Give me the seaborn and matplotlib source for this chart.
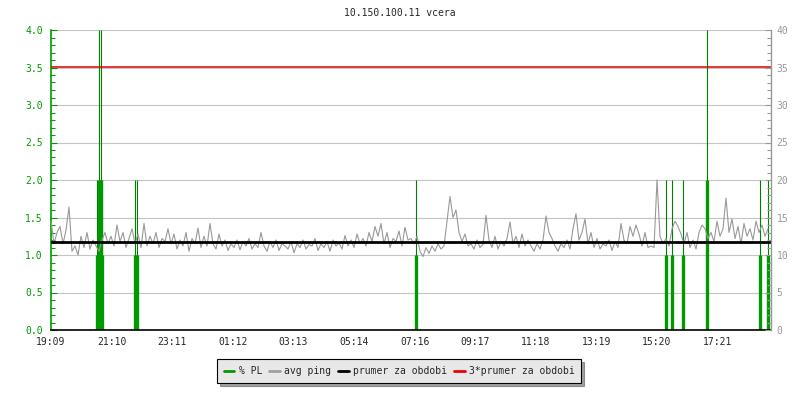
import numpy as np
import pandas as pd
import matplotlib
matplotlib.use('Agg')
import matplotlib.pyplot as plt
from matplotlib.lines import Line2D
from matplotlib.ticker import MultipleLocator
import seaborn as sns

sns.set_style('white')
plt.rcParams['font.family'] = ['DejaVu Sans Mono']

title = '10.150.100.11 vcera'
tick_labels = ['19:09', '21:10', '23:11', '01:12', '03:13', '05:14',
               '07:16', '09:17', '11:18', '13:19', '15:20', '17:21']
tick_step = 121.2  # minutes between labels
sample_step = 6    # minutes between ping samples

# avg ping (left scale), one value every 6 minutes
avg_ping = [
    1.45, 1.15, 1.30, 1.38, 1.15, 1.33, 1.64, 1.05, 1.12, 1.00,
    1.25, 1.10, 1.30, 1.08, 1.20, 1.12, 1.05, 1.20, 1.30, 1.15,
    1.25, 1.12, 1.40, 1.18, 1.30, 1.10, 1.22, 1.35, 1.15, 1.28,
    1.10, 1.42, 1.12, 1.25, 1.15, 1.30, 1.10, 1.22, 1.18, 1.35,
    1.15, 1.28, 1.08, 1.20, 1.12, 1.30, 1.05, 1.22, 1.15, 1.36,
    1.10, 1.25, 1.12, 1.42, 1.15, 1.08, 1.28, 1.12, 1.20, 1.06,
    1.15, 1.10, 1.20, 1.07, 1.18, 1.12, 1.22, 1.08, 1.15, 1.10,
    1.30, 1.12, 1.05, 1.18, 1.10, 1.20, 1.06, 1.15, 1.12, 1.08,
    1.18, 1.03, 1.15, 1.10, 1.20, 1.08, 1.14, 1.12, 1.22, 1.06,
    1.15, 1.10, 1.18, 1.05, 1.20, 1.12, 1.16, 1.08, 1.26, 1.12,
    1.20, 1.10, 1.28, 1.15, 1.22, 1.12, 1.30, 1.18, 1.38, 1.25,
    1.42, 1.15, 1.30, 1.10, 1.22, 1.18, 1.32, 1.12, 1.37, 1.20,
    1.22, 1.15, 1.25, 1.05, 0.98, 1.10, 1.02, 1.12, 1.05, 1.15,
    1.08, 1.12, 1.45, 1.78, 1.50, 1.60, 1.30, 1.18, 1.28, 1.12,
    1.15, 1.08, 1.20, 1.10, 1.14, 1.53, 1.20, 1.10, 1.25, 1.08,
    1.18, 1.12, 1.22, 1.44, 1.15, 1.25, 1.10, 1.28, 1.12, 1.20,
    1.12, 1.05, 1.15, 1.08, 1.20, 1.52, 1.30, 1.22, 1.12, 1.05,
    1.15, 1.10, 1.20, 1.08, 1.35, 1.55, 1.20, 1.30, 1.48, 1.15,
    1.30, 1.10, 1.22, 1.08, 1.15, 1.12, 1.20, 1.06, 1.18, 1.10,
    1.42, 1.20, 1.15, 1.38, 1.25, 1.40, 1.28, 1.12, 1.30, 1.10,
    1.12, 1.10, 2.00, 1.25, 1.15, 1.22, 1.12, 1.35, 1.45, 1.38,
    1.28, 1.15, 1.30, 1.10, 1.20, 1.08, 1.30, 1.40, 1.35, 1.22,
    1.30, 1.18, 1.45, 1.25, 1.35, 1.76, 1.30, 1.48, 1.22, 1.38,
    1.15, 1.42, 1.25, 1.35, 1.20, 1.45, 1.30, 1.40, 1.25, 1.35,
]

# packet loss events: minutes after 19:09 and value (left scale, clipped at 4)
pl_minutes = [91, 95, 99, 101, 167, 171, 729, 1229, 1241, 1264, 1312, 1418, 1434]
pl_values = [2.0, 4.2, 4.2, 2.0, 2.0, 2.0, 2.0, 2.0, 2.0, 2.0, 4.2, 2.0, 2.0]

mean_ping = 1.17
triple_mean = 3.51

df = pd.DataFrame({'minute': np.arange(len(avg_ping)) * sample_step,
                   'ping': avg_ping})

fig = plt.figure(figsize=(8, 4), dpi=100)
ax = fig.add_axes([51 / 800, 70 / 400, 720 / 800, 300 / 400])

green = '#009900'
dgreen = '#008000'
grey = '#999999'

ax.set_xlim(0, 1440)
ax.set_ylim(0, 4.0)
for y in np.arange(0.5, 4.01, 0.5):
    ax.axhline(y, color='#c4c4c4', lw=0.8, zorder=0)

# packet loss bars
pl = np.minimum(np.array(pl_values), 4.0)
ax.vlines(pl_minutes, 0, pl, color=dgreen, lw=0.8, zorder=2)
ax.vlines(pl_minutes, 0, pl / 2, color=green, lw=2.4, zorder=2)

sns.lineplot(data=df, x='minute', y='ping', ax=ax, color=grey, lw=0.8, zorder=3)
ax.axhline(mean_ping, color='black', lw=2.0, zorder=4)
ax.axhline(triple_mean, color='#dd0000', lw=1.1, zorder=4)

ax.set_xlabel('')
ax.set_ylabel('')
ax.set_xticks([tick_step * i for i in range(len(tick_labels))])
ax.set_xticklabels(tick_labels, fontsize=7)
ax.set_yticks(np.arange(0, 4.01, 0.5))
ax.set_yticklabels([f'{v:.1f}' for v in np.arange(0, 4.01, 0.5)], fontsize=7, color=green)
ax.yaxis.set_minor_locator(MultipleLocator(0.1))
ax.tick_params(axis='x', direction='in', length=4, width=0.8, pad=5)
ax.tick_params(axis='y', which='major', direction='in', length=4, width=0.8, color=green, pad=6)
ax.tick_params(axis='y', which='minor', direction='in', length=3, width=0.8, color=green, left=True)
for s in ['top', 'right']:
    ax.spines[s].set_visible(False)
ax.spines['left'].set_color(green)
ax.spines['left'].set_linewidth(1.2)
ax.spines['bottom'].set_color('black')
ax.spines['bottom'].set_linewidth(1.2)

ax2 = ax.twinx()
ax2.set_ylim(0, 40)
ax2.set_yticks(range(0, 41, 5))
ax2.set_yticklabels([str(v) for v in range(0, 41, 5)], fontsize=7, color=grey)
ax2.yaxis.set_minor_locator(MultipleLocator(1))
ax2.tick_params(axis='y', which='major', direction='in', length=4, width=0.8, color=grey, pad=4)
ax2.tick_params(axis='y', which='minor', direction='in', length=3, width=0.8, color=grey)
for s in ['top', 'left', 'bottom']:
    ax2.spines[s].set_visible(False)
ax2.spines['right'].set_color(grey)
ax2.spines['right'].set_linewidth(1.0)

fig.text(0.5, 1 - 13 / 400, title, ha='center', va='center', fontsize=7)

handles = [Line2D([], [], color=green, lw=2),
           Line2D([], [], color='#a0a0a0', lw=2),
           Line2D([], [], color='black', lw=2),
           Line2D([], [], color='#ee0000', lw=2)]
labels = ['% PL', 'avg ping', 'prumer za obdobi', '3*prumer za obdobi']
leg = fig.legend(handles, labels, loc='center', bbox_to_anchor=(0.499, 1 - 371 / 400),
                 ncol=4, fontsize=7, frameon=True, fancybox=False, shadow=True,
                 handlelength=1.1, handletextpad=0.45, columnspacing=0.7,
                 borderpad=0.7, borderaxespad=0)
leg.get_frame().set_facecolor('#e8e8e8')
leg.get_frame().set_edgecolor('black')
leg.get_frame().set_linewidth(0.8)

plt.savefig('out.png', dpi=100)
